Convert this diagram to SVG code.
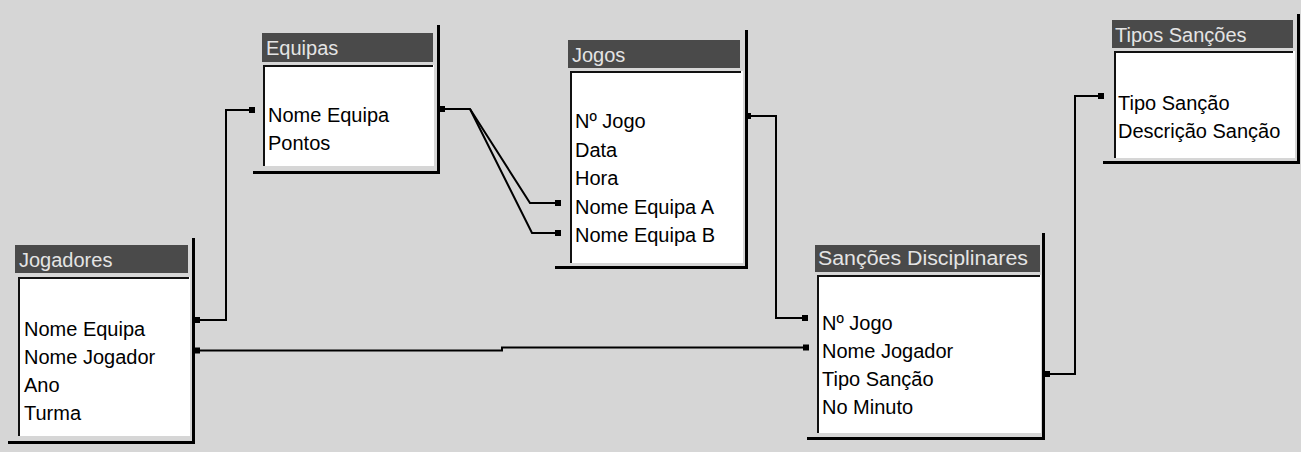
<svg xmlns="http://www.w3.org/2000/svg" width="1301" height="452" viewBox="0 0 1301 452">
<style>
.bg{fill:#d6d6d6}
.title{fill:#4a4a4a}
.body{fill:#ffffff}
.inset{stroke:#111;stroke-width:2;fill:none}
.shadow{stroke:#000;stroke-width:3;fill:none}
.tt{font-family:"Liberation Sans",Arial,sans-serif;font-size:20px;fill:#e4e4e4}
.ft{font-family:"Liberation Sans",Arial,sans-serif;font-size:20px;fill:#000}
.conn{stroke:#000;stroke-width:2;fill:none}
.dot{fill:#000}
</style>
<rect class="bg" x="0" y="0" width="1301" height="452"/>

<g id="jogadores">
<rect class="title" x="15" y="245" width="173" height="28"/>
<rect class="body" x="18" y="277" width="172" height="159"/>
<path class="inset" d="M19,436 V278 H189"/>
<path class="shadow" d="M193.5,238 V442.5 H8"/>
<text class="tt" x="19" y="267">Jogadores</text>
<text class="ft" x="24" y="336">Nome Equipa</text>
<text class="ft" x="24" y="364">Nome Jogador</text>
<text class="ft" x="24" y="392">Ano</text>
<text class="ft" x="24" y="420">Turma</text>
</g>

<g id="equipas">
<rect class="title" x="262" y="33" width="171" height="29"/>
<rect class="body" x="263" y="65" width="171" height="101"/>
<path class="inset" d="M264,166 V66 H433"/>
<path class="shadow" d="M438.5,25 V172.5 H253"/>
<text class="tt" x="266" y="55">Equipas</text>
<text class="ft" x="268" y="122">Nome Equipa</text>
<text class="ft" x="268" y="150">Pontos</text>
</g>

<g id="jogos">
<rect class="title" x="568" y="40" width="172" height="28"/>
<rect class="body" x="570" y="71" width="173" height="192"/>
<path class="inset" d="M571,263 V72 H741"/>
<path class="shadow" d="M746.5,30 V267.5 H555"/>
<text class="tt" x="572" y="62">Jogos</text>
<text class="ft" x="575" y="128">Nº Jogo</text>
<text class="ft" x="575" y="157">Data</text>
<text class="ft" x="575" y="185">Hora</text>
<text class="ft" x="575" y="214">Nome Equipa A</text>
<text class="ft" x="575" y="242">Nome Equipa B</text>
</g>

<g id="sancoes">
<rect class="title" x="815" y="245" width="225" height="27"/>
<rect class="body" x="817" y="275" width="224" height="158"/>
<path class="inset" d="M818,433 V276 H1040"/>
<path class="shadow" d="M1043.5,233 V438.5 H807"/>
<text class="tt" x="818" y="265" textLength="210" lengthAdjust="spacingAndGlyphs">Sanções Disciplinares</text>
<text class="ft" x="822" y="330">Nº Jogo</text>
<text class="ft" x="822" y="358">Nome Jogador</text>
<text class="ft" x="822" y="386">Tipo Sanção</text>
<text class="ft" x="822" y="414">No Minuto</text>
</g>

<g id="tipos">
<rect class="title" x="1112" y="20" width="181" height="28"/>
<rect class="body" x="1114" y="51" width="181" height="107"/>
<path class="inset" d="M1115,158 V52 H1293"/>
<path class="shadow" d="M1298.5,14 V162.5 H1103"/>
<text class="tt" x="1115" y="42">Tipos Sanções</text>
<text class="ft" x="1118" y="110">Tipo Sanção</text>
<text class="ft" x="1118" y="138">Descrição Sanção</text>
</g>

<g id="connectors">
<polyline class="conn" points="197,320 226,320 226,110 252,110"/>
<polyline class="conn" points="197,350.5 502,350.5 502,347.5 806,347.5"/>
<polyline class="conn" points="442,109 470,109 530,203 558,203"/>
<polyline class="conn" points="470,109 532,233 558,233"/>
<polyline class="conn" points="748,116 776,116 776,318 805,318"/>
<polyline class="conn" points="1047,374 1075,374 1075,96 1101,96"/>
<rect class="dot" x="194" y="317" width="6" height="6"/>
<rect class="dot" x="249" y="107" width="6" height="6"/>
<rect class="dot" x="194" y="347.5" width="6" height="6"/>
<rect class="dot" x="803" y="344.5" width="6" height="6"/>
<rect class="dot" x="439" y="106" width="6" height="6"/>
<rect class="dot" x="555" y="200" width="6" height="6"/>
<rect class="dot" x="555" y="230" width="6" height="6"/>
<rect class="dot" x="745" y="113" width="6" height="6"/>
<rect class="dot" x="802" y="315" width="6" height="6"/>
<rect class="dot" x="1044" y="371" width="6" height="6"/>
<rect class="dot" x="1098" y="93" width="6" height="6"/>
</g>
</svg>
